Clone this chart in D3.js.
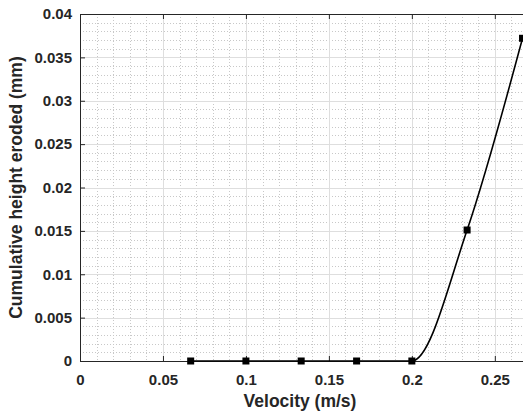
<!DOCTYPE html>
<html>
<head>
<meta charset="utf-8">
<script src="https://cdn.jsdelivr.net/npm/d3@7"></script>
<style>
body { margin: 0; background: #fff; }
text { font-family: "Liberation Sans", Arial, sans-serif; font-weight: bold; fill: #262626; }
</style>
</head>
<body>
<svg width="523" height="419"></svg>
<script>
// data
var velocity = [0.0667, 0.1, 0.1333, 0.1667, 0.2, 0.2333, 0.2667];
var eroded = [0, 0, 0, 0, 0, 0.0151, 0.0372];
var xTicks = [0, 0.05, 0.1, 0.15, 0.2, 0.25];
var yTicks = [0, 0.005, 0.01, 0.015, 0.02, 0.025, 0.03, 0.035, 0.04];

var svg = d3.select("svg");
var pLeft = 80, pTop = 14, pRight = 528, pBottom = 361;

var x = d3.scaleLinear().domain([0, 0.27]).range([pLeft, pRight]);
var y = d3.scaleLinear().domain([0, 0.04]).range([pBottom, pTop]);

var grid = svg.append("g");

// minor grid (dotted)
var xMinor = d3.range(0.01, 0.27, 0.01).filter(function (d) { return Math.abs(d / 0.05 - Math.round(d / 0.05)) > 1e-6; });
var yMinor = d3.range(0.001, 0.04, 0.001).filter(function (d) { return Math.abs(d / 0.005 - Math.round(d / 0.005)) > 1e-6; });

grid.selectAll(".xmin").data(xMinor).enter().append("line")
.attr("x1", function (d) { return Math.round(x(d)) + 0.5; })
.attr("x2", function (d) { return Math.round(x(d)) + 0.5; })
.attr("y1", pTop).attr("y2", pBottom)
.attr("stroke", "#c8c8c8").attr("stroke-dasharray", "1,2");

grid.selectAll(".ymin").data(yMinor).enter().append("line")
.attr("y1", function (d) { return Math.round(y(d)) + 0.5; })
.attr("y2", function (d) { return Math.round(y(d)) + 0.5; })
.attr("x1", pLeft).attr("x2", pRight)
.attr("stroke", "#c8c8c8").attr("stroke-dasharray", "1,2");

// major grid
grid.selectAll(".xmaj").data(xTicks).enter().append("line")
.attr("x1", function (d) { return Math.round(x(d)) + 0.5; })
.attr("x2", function (d) { return Math.round(x(d)) + 0.5; })
.attr("y1", pTop).attr("y2", pBottom)
.attr("stroke", "#dedede");

grid.selectAll(".ymaj").data(yTicks).enter().append("line")
.attr("y1", function (d) { return Math.round(y(d)) + 0.5; })
.attr("y2", function (d) { return Math.round(y(d)) + 0.5; })
.attr("x1", pLeft).attr("x2", pRight)
.attr("stroke", "#dedede");

// axes
var fmt = function (d) { return d === 0 ? "0" : String(+d.toFixed(3)); };

var xAxis = svg.append("g")
.attr("transform", "translate(0," + pBottom + ")")
.call(d3.axisBottom(x).tickValues(xTicks).tickFormat(fmt).tickSizeInner(-5).tickSizeOuter(0).tickPadding(13));

var xTopAxis = svg.append("g")
.attr("transform", "translate(0," + pTop + ")")
.call(d3.axisTop(x).tickValues(xTicks).tickFormat("").tickSizeInner(-5).tickSizeOuter(0));

var yAxis = svg.append("g")
.attr("transform", "translate(" + pLeft + ",0)")
.call(d3.axisLeft(y).tickValues(yTicks).tickFormat(fmt).tickSizeInner(-5).tickSizeOuter(0).tickPadding(8));

var yRightAxis = svg.append("g")
.attr("transform", "translate(" + pRight + ",0)")
.call(d3.axisRight(y).tickValues(yTicks).tickFormat("").tickSizeInner(-5).tickSizeOuter(0));

[xAxis, xTopAxis, yAxis, yRightAxis].forEach(function (a) {
    a.selectAll("path").attr("stroke", "#262626");
    a.selectAll("line").attr("stroke", "#262626");
    a.selectAll("text").attr("font-size", "15px").attr("fill", "#262626");
});

// curve
var line = d3.line()
.x(function (d, i) { return x(velocity[i]); })
.y(function (d) { return y(d); })
.curve(d3.curveMonotoneX);

svg.append("path")
.datum(eroded)
.attr("d", line)
.attr("fill", "none")
.attr("stroke", "#000")
.attr("stroke-width", 1.6);

svg.selectAll(".mark").data(eroded).enter().append("rect")
.attr("x", function (d, i) { return x(velocity[i]) - 3.5; })
.attr("y", function (d) { return y(d) - 3.5; })
.attr("width", 7).attr("height", 7)
.attr("fill", "#000");

// titles
svg.append("text")
.attr("x", 300).attr("y", 407)
.attr("text-anchor", "middle")
.attr("font-size", "17.5px")
.text("Velocity (m/s)");

svg.append("text")
.attr("transform", "translate(22," + (pTop + pBottom) / 2 + ") rotate(-90)")
.attr("text-anchor", "middle")
.attr("font-size", "17.5px")
.text("Cumulative height eroded (mm)");
</script>
</body>
</html>
